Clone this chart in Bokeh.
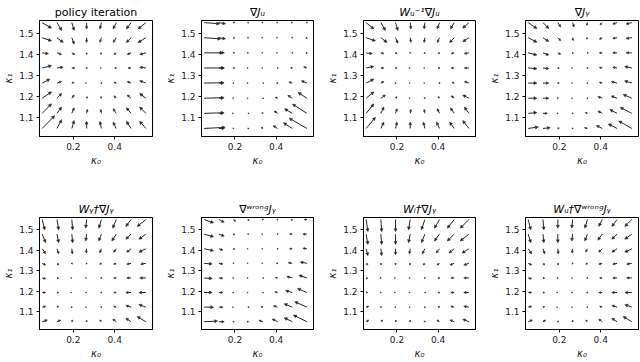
import numpy as np
from bokeh.plotting import figure
from bokeh.models import ColumnDataSource, Arrow, NormalHead, FixedTicker, Range1d
from bokeh.layouts import row, column
from bokeh.embed import file_html
from bokeh.resources import INLINE

# grid of the quiver plots
KAPPA0 = [0.05, 0.1214, 0.1929, 0.2643, 0.3357, 0.4071, 0.4786, 0.55]
KAPPA1 = [1.55, 1.4786, 1.4071, 1.3357, 1.2643, 1.1929, 1.1214, 1.05]  # rows, top to bottom
X_TICKS = [0.2, 0.4]
Y_TICKS = [1.1, 1.2, 1.3, 1.4, 1.5]

TITLES = [
    "policy iteration",
    "∇Jᵤ",
    "Wᵤ⁻¹∇Jᵤ",
    "∇Jᵧ",
    "Wᵧ†∇Jᵧ",
    "∇ʷʳᵒⁿᵍJᵧ",
    "Wᵢ†∇Jᵧ",
    "Wᵤ†∇ʷʳᵒⁿᵍJᵧ",
]

# vector components (rows top to bottom, columns left to right)
P1_U = [[6, 3, 1.5, 0, -1, -2, -3, -5],
        [6, 4, 1.5, 0, -1, -2, -3, -5],
        [4, 3, 2, 0, -0.5, -1.5, -2.5, -4],
        [6, 4, 2, 0.5, 0, -1, -2, -4],
        [5, 3, 1.5, 0, -0.5, -1.5, -2.5, -4],
        [6, 3, 1.5, 0.5, -0.5, -1.5, -2.5, -4],
        [6, 3, 1.5, 0.5, -0.5, -2, -3, -4],
        [8, 3, 1.5, 0, -1, -2, -3, -4]]
P1_V = [[-3.5, -5, -5, -4, -4, -4, -4, -4],
        [-2, -3, -4, -3, -3, -3, -3, -3],
        [-0.5, -1, -1, -1, -1, -1, -1, -1],
        [1.5, 0.5, 0, 0, 0, 0, 0, 0.5],
        [2.5, 1, 0.5, 0, 0, 0.5, 1, 1.5],
        [4, 3, 2, 1, 1, 1.5, 2, 3],
        [6, 4, 3.5, 2.5, 2.5, 3, 3.5, 4],
        [8, 5.5, 5, 4.5, 4.5, 4, 4.5, 4.5]]

P2_U = [[14, 6, 1, 0.5, 0.3, 0.3, 0.3, 0.3],
        [15, 6, 1, 0.5, 0, 0, 0, -1],
        [17, 5, 1, 0.3, 0, 0, -0.5, -1],
        [18, 5, 1, 0, 0, -0.5, -1.5, -3],
        [18, 4, 0.5, 0, -0.3, -1, -3, -5],
        [18, 4, 0.3, 0, -0.5, -2, -4, -8],
        [18, 4, 0, -0.3, -1, -3, -7, -13],
        [19, 5, 0.5, -0.5, -1.5, -4, -8, -16]]
P2_V = [[-1, -1, 0.5, 0.3, 0, 0, 0, -0.5],
        [-1, -1, -0.5, 0, 0, 0, -0.5, -0.5],
        [0, 0, 0, 0, 0, 0, 0, -0.5],
        [0, 0, 0, 0, 0, 0, 0.3, 1],
        [0.3, 0, 0, 0, 0, 0.3, 1, 2],
        [0.5, 0, 0, 0, 0.2, 1, 2.5, 5],
        [0.5, 0, 0, 0, 0.5, 2, 4, 8],
        [1, 0, 0, 0.3, 1, 2.5, 5, 9]]

P3_U = [[5, 3, 1.5, 0.5, -0.5, -1.5, -2.5, -4],
        [6, 4, 1.5, 0.5, -0.5, -1.5, -3, -4],
        [4, 2, 1, 0.3, -0.5, -1, -2, -3],
        [5, 2, 1, 0, 0, -1, -2, -3],
        [5, 2, 0.5, 0, 0, -0.5, -1.5, -3],
        [5, 3, 1, 0, -0.5, -1, -2, -4],
        [5, 2, 1, 0.5, -0.5, -1.5, -2.5, -3],
        [6, 2, 1, 0, -1, -2, -3, -4]]
P3_V = [[-4, -5, -5, -4, -4, -4, -4, -3.5],
        [-2, -3, -3.5, -3, -3, -3, -3, -2.5],
        [-0.5, -0.5, -0.5, -0.3, -0.5, -0.5, -0.5, -0.5],
        [1, 0, 0, 0, 0, 0, 0, 0],
        [2.5, 1, 0, 0, 0, 0, 0.5, 1],
        [4, 2, 1, 0, 0.5, 1, 1.5, 2],
        [6, 4, 3, 2.5, 2.5, 3, 3.5, 4],
        [7, 4, 4, 4, 4, 4, 4, 5]]

P4_U = [[6, 4, 2, 1, -0.5, -1.5, -3, -4],
        [6, 4, 2, 0.5, -0.5, -2, -3, -4],
        [6, 4, 2, 0.5, -0.3, -2, -3, -4],
        [6, 4, 1, 0, -0.5, -2, -3, -5],
        [6, 4, 1, 0, -0.5, -2, -4, -5],
        [6, 4, 0.5, 0, -0.5, -3, -4, -6],
        [6, 3, 0.3, -0.5, -1.5, -3, -5, -8],
        [7, 5, 1, -0.5, -2, -4, -6, -9]]
P4_V = [[-4, -4, -3, -3, -2, -1.5, -1, -1],
        [-3, -2.5, -2, -2, -1, -1, -0.5, -0.5],
        [-1.5, -1.5, -1, -0.5, 0, 0, 0, 0],
        [-0.5, -0.5, -0.3, 0, 0, 0.3, 0.5, 1],
        [0, 0, 0, 0, 0, 0.5, 1, 1.5],
        [0, 0, 0, 0, 0.2, 1, 1.5, 2.5],
        [0.5, 0, 0, 0, 0.5, 1.5, 2.5, 4],
        [1, 0.5, 0.3, 0.3, 0.5, 2, 3, 5]]

P5_U = [[1.5, 1, 0.5, -0.5, -1.5, -2, -3, -5],
        [2, 1, 0.5, -0.5, -1.5, -2.5, -3, -4],
        [2, 1, 0.3, -0.3, -1, -1.5, -2.5, -4],
        [2, 1, 0.3, -0.3, -1, -1.5, -2.5, -3],
        [2, 1, 0, 0, -0.5, -1.5, -2.5, -3.5],
        [2, 1, 0, 0, -0.5, -1.5, -3, -4],
        [2, 1, 0.3, 0, -0.5, -1.5, -3, -4],
        [3, 2, 0.5, 0, -1, -2, -3, -5]]
P5_V = [[-6, -6, -6, -5, -5, -5, -4, -4],
        [-5, -5, -5, -4, -4, -4, -3, -3],
        [-3, -3, -3, -2.5, -2.5, -2, -2, -2],
        [-1, -1, -0.5, -0.5, -0.5, -0.5, -0.5, -0.5],
        [-0.5, -0.3, 0, 0, 0, 0, 0, 0],
        [0, 0, 0, 0, 0, 0, 0, 0],
        [0.5, 0.5, 0, 0, 0.3, 0.5, 1, 1.5],
        [1, 1, 1, 1, 1, 1.5, 2, 3]]

P6_U = [[7, 4, 1.5, 0.5, 0, -0.5, -1, -2],
        [7, 4, 1, 0.3, 0, -0.5, -2, -3],
        [7, 3, 1, 0, 0, -0.5, -2, -3],
        [6, 3, 0.5, 0, 0, -1, -3, -5],
        [6, 3, 0.3, 0, -0.3, -1.5, -4, -6],
        [6, 3, 0.3, 0, -0.5, -2, -5, -7],
        [7, 3, 0, -0.3, -1.5, -3, -6, -9],
        [10, 4, 0.5, -1, -3, -4, -6, -10]]
P6_V = [[-2.5, -2, -1.5, -1, -0.5, -0.5, -0.5, 0],
        [-2, -1.5, -0.5, -0.3, 0, 0, 0, 0],
        [-1.5, -1, -0.5, 0, 0, 0, 0, 0.3],
        [-0.5, -0.5, 0, 0, 0, 0, 0.5, 1],
        [-0.5, -0.3, 0, 0, 0, 0.3, 1, 2],
        [0, 0, 0, 0, 0, 0.5, 1.5, 3],
        [0, 0, 0, 0, 0.5, 1, 2.5, 4],
        [0.5, 0, 0, 0.3, 1, 2, 3, 5]]

P7_U = [[1, 0.5, 0, -1, -2, -3, -4, -5],
        [1, 0.5, 0, -1, -2, -3, -4, -5],
        [1, 0.5, 0, -0.5, -1.5, -2, -3, -4],
        [1, 0.3, 0, -0.3, -1, -1.5, -2.5, -3],
        [1, 0.3, 0, 0, -0.5, -1, -2, -3],
        [1, 0.3, 0, 0, -0.3, -1, -2, -3],
        [1.5, 0.5, 0.3, 0, -0.5, -1, -2, -3],
        [1.5, 1, 0.3, 0, -0.5, -1.5, -2.5, -3.5]]
P7_V = [[-7, -7, -7, -6, -6, -5, -5, -5],
        [-6, -6, -6, -5, -5, -4, -4, -4],
        [-4, -4, -3.5, -3, -3, -2.5, -2.5, -2.5],
        [-1, -1, -1, -1, -1, -1, -1, -1],
        [-0.3, 0, 0, 0, 0, 0, 0, 0],
        [0, 0, 0, 0, 0, 0, 0, 0],
        [0.5, 0.3, 0, 0, 0, 0.3, 0.5, 0.5],
        [1, 1, 1, 1, 0.5, 1, 1, 1.5]]

P8_U = [[1.5, 0.5, 0, -0.5, -1.5, -2, -3, -4],
        [1.5, 0.5, 0, -0.5, -1.5, -2.5, -3, -4],
        [2, 1, 0.3, -0.3, -1, -2, -3, -4],
        [2, 1, 0.3, -0.3, -1, -2, -2.5, -3],
        [2, 1, 0.3, 0, -0.5, -1.5, -2.5, -3],
        [2, 1, 0, 0, -0.5, -2, -3, -4],
        [2, 1, 0, 0, -0.5, -1.5, -3, -4],
        [2.5, 1.5, 0.5, 0, -1, -2, -3, -5]]
P8_V = [[-6, -6, -5, -5, -5, -4, -4, -4],
        [-5, -5, -5, -4, -4, -3.5, -3, -3],
        [-3, -3, -3, -2.5, -2, -2, -2, -2],
        [-1, -1, -1, -0.5, -0.5, -0.5, -0.5, -0.5],
        [-0.5, -0.3, 0, 0, 0, 0, 0, 0],
        [0, 0, 0, 0, 0, 0, 0, 0],
        [0.5, 0.3, 0, 0, 0, 0.5, 1, 1.5],
        [1, 1, 0.5, 1, 1, 1.5, 2, 3]]

FIELDS = [(P1_U, P1_V), (P2_U, P2_V), (P3_U, P3_V), (P4_U, P4_V),
          (P5_U, P5_V), (P6_U, P6_V), (P7_U, P7_V), (P8_U, P8_V)]

# per-panel quiver scaling (like matplotlib's per-axes autoscale)
QUIVER_GAIN = [1.6, 1.15, 1.6, 1.5, 1.8, 1.4, 1.8, 1.8]
BASE_SCALE = 213.0
FONT = "DejaVu Sans"
INK = "#262626"

WIDTHS = [162, 162, 162, 153]
LEFT_B = [36, 35, 35, 36]
RIGHT_B = [10, 11, 11, 1]
ROW_H = [181, 180]
TOP_B = [20, 36]
BOT_B = [45, 31]


def make_panel(i):
    r, c = divmod(i, 4)
    p = figure(width=WIDTHS[c], height=ROW_H[r], output_backend="svg", toolbar_location=None,
               x_range=Range1d(0.037, 0.582), y_range=Range1d(1.012, 1.56),
               min_border_left=LEFT_B[c], min_border_right=RIGHT_B[c],
               min_border_top=TOP_B[r], min_border_bottom=BOT_B[r])
    p.grid.visible = False
    p.outline_line_color = "black"
    p.outline_line_width = 1
    p.background_fill_color = "white"
    p.border_fill_color = "white"

    p.title.text = TITLES[i]
    p.title.align = "center"
    p.title.text_font = FONT
    p.title.text_font_size = "11px"
    p.title.text_font_style = "normal" if i == 0 else "italic"
    p.title.text_color = "black"
    p.title.standoff = 4

    for ax in (p.xaxis[0], p.yaxis[0]):
        ax.major_label_text_font = FONT
        ax.major_label_text_font_size = "9px"
        ax.major_label_text_color = "#222222"
        ax.axis_label_text_font = FONT
        ax.axis_label_text_font_size = "10px"
        ax.axis_label_text_font_style = "italic"
        ax.axis_label_text_color = "#222222"
        ax.minor_tick_line_color = None
        ax.major_tick_in = 0
        ax.major_tick_out = 3
        ax.major_tick_line_color = "black"
        ax.axis_line_color = "black"
        ax.major_label_standoff = 3
        ax.axis_label_standoff = 2
    p.xaxis.ticker = FixedTicker(ticks=X_TICKS)
    p.yaxis.ticker = FixedTicker(ticks=Y_TICKS)
    p.xaxis.axis_label = "κ₀"
    p.yaxis.axis_label = "κ₁"

    U, V = FIELDS[i]
    scale = BASE_SCALE / QUIVER_GAIN[i]
    xs, ys, xe, ye, hs = [], [], [], [], []
    for ri, yv in enumerate(KAPPA1):
        for ci, xv in enumerate(KAPPA0):
            u = U[ri][ci]
            v = V[ri][ci]
            xs.append(xv)
            ys.append(yv)
            xe.append(xv + u / scale)
            ye.append(yv + v / scale)
            ln = float(np.hypot(u, v)) * QUIVER_GAIN[i]
            hs.append(min(3.0, 1.0 + 0.25 * ln))
    src = ColumnDataSource(dict(x0=xs, y0=ys, x1=xe, y1=ye, hs=hs))
    p.add_layout(Arrow(x_start="x0", y_start="y0", x_end="x1", y_end="y1", source=src,
                       line_color=INK, line_width=1,
                       end=NormalHead(size="hs", fill_color=INK, line_color=INK, line_width=0.5)))
    return p


panels = [make_panel(i) for i in range(8)]
layout = column(row(*panels[:4]), row(*panels[4:]))

open("out.html", "w").write(file_html(layout, INLINE))
